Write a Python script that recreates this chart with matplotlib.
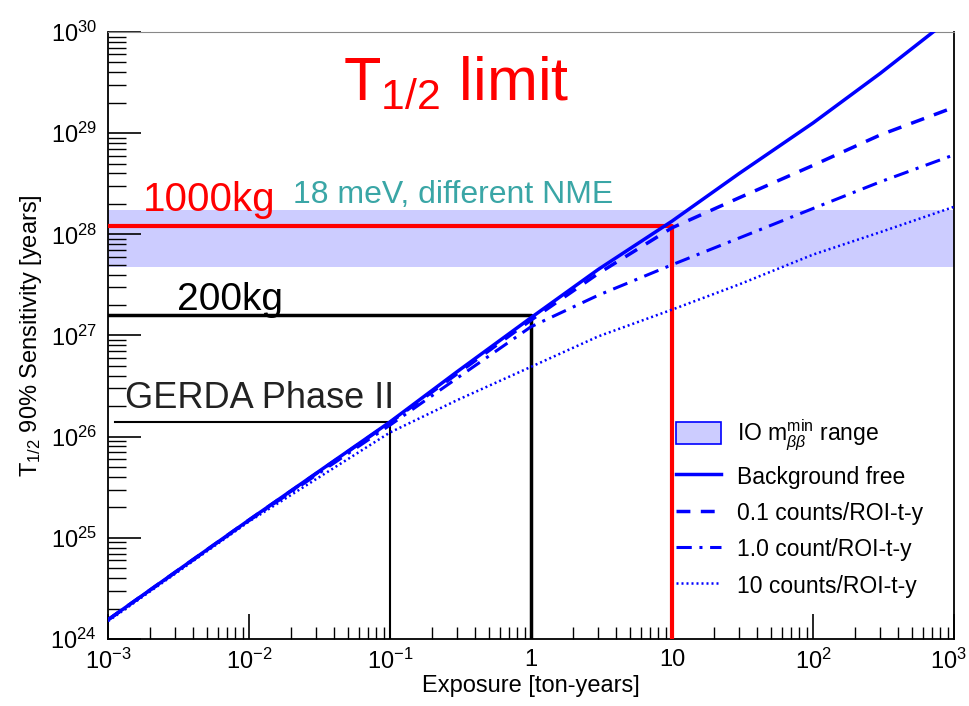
import matplotlib
matplotlib.use("Agg")
import matplotlib.pyplot as plt
import matplotlib.transforms as mtransforms
from matplotlib.patches import Patch
from matplotlib.lines import Line2D
from matplotlib.ticker import FixedLocator, LogLocator, NullFormatter

plt.rcParams['font.family'] = ['Liberation Sans', 'DejaVu Sans']
plt.rcParams['mathtext.fontset'] = 'custom'
plt.rcParams['mathtext.rm'] = 'Liberation Sans'
plt.rcParams['mathtext.it'] = 'Liberation Sans:italic'
plt.rcParams['mathtext.bf'] = 'Liberation Sans:bold'

# ---- data ----
exposure = [1e-3, 1e-2, 1e-1, 0.3, 1, 3, 10, 30, 100, 300, 1000]
bkg_free = [1.55e24, 1.5e25, 1.4e26, 4.4e26, 1.5e27, 4.5e27, 1.35e28, 4.0e28, 1.26e29, 3.9e29, 1.45e30]
bkg_0p1 = [1.55e24, 1.5e25, 1.38e26, 4.2e26, 1.42e27, 4.1e27, 1.16e28, 2.3e28, 4.8e28, 9.6e28, 1.8e29]
bkg_1 = [1.55e24, 1.48e25, 1.3e26, 3.8e26, 1.22e27, 2.5e27, 5.0e27, 9.2e27, 1.8e28, 3.3e28, 6.1e28]
bkg_10 = [1.5e24, 1.45e25, 1.1e26, 2.3e26, 4.9e26, 9.8e26, 1.8e27, 3.2e27, 6.3e27, 1.05e28, 1.87e28]

band_lo, band_hi = 4.7e27, 1.73e28

# (exposure, T1/2) corners of the reference boxes
t_1000kg = (10, 1.2e28)
t_200kg = (1, 1.58e27)
t_gerda = (0.1, 1.4e26)
gerda_x0 = 1.12e-3

x_ticks = [1e-3, 1e-2, 1e-1, 1, 10, 1e2, 1e3]
x_labels = ['$10^{-3}$', '$10^{-2}$', '$10^{-1}$', '1', '10', '$10^{2}$', '$10^{3}$']
y_ticks = [1e24, 1e25, 1e26, 1e27, 1e28, 1e29, 1e30]
y_labels = ['$10^{%d}$' % k for k in range(24, 31)]

BLUE = '#0000ff'
BAND = '#ccccff'

fig = plt.figure(figsize=(9.69, 7.06), dpi=100)
ax = fig.add_axes([0.1115, 0.0949, 0.873, 0.8598])
ax.set_xscale('log')
ax.set_yscale('log')
ax.set_xlim(1e-3, 1e3)
ax.set_ylim(1e24, 1e30)

ax.axhspan(band_lo, band_hi, color=BAND, lw=0, zorder=1)

# reference boxes
ax.plot([1e-3, t_1000kg[0], t_1000kg[0]], [t_1000kg[1], t_1000kg[1], 1e24],
        color='red', lw=3, zorder=3, solid_joinstyle='round')
ax.plot([1e-3, t_200kg[0], t_200kg[0]], [t_200kg[1], t_200kg[1], 1e24],
        color='black', lw=2.5, zorder=3)
ax.plot([gerda_x0, t_gerda[0], t_gerda[0]], [t_gerda[1], t_gerda[1], 1e24],
        color='black', lw=1.5, zorder=3)

ax.plot(exposure, bkg_free, color=BLUE, lw=2.5, zorder=4)
ax.plot(exposure, bkg_0p1, color=BLUE, lw=2.5, ls=(0, (4, 3)), zorder=4)
ax.plot(exposure, bkg_1, color=BLUE, lw=2.2, ls=(0, (5, 2.5, 1, 2.5)), zorder=4)
ax.plot(exposure, bkg_10, color=BLUE, lw=1.8, ls=(0, (0.8, 1.2)), zorder=4)

# ticks, ROOT style
ax.xaxis.set_major_locator(FixedLocator(x_ticks))
ax.set_xticklabels(x_labels)
ax.yaxis.set_major_locator(FixedLocator(y_ticks))
ax.set_yticklabels(y_labels)
for axis in (ax.xaxis, ax.yaxis):
    axis.set_minor_locator(LogLocator(base=10, subs=range(2, 10), numticks=20))
    axis.set_minor_formatter(NullFormatter())
ax.tick_params(which='both', direction='in', top=False, right=False,
               labelsize=17, color='black')
ax.tick_params(axis='y', which='major', length=24, width=1.2, pad=8)
ax.tick_params(axis='y', which='minor', length=13, width=1.0)
ax.tick_params(axis='x', which='major', length=18, width=1.2, pad=7)
ax.tick_params(axis='x', which='minor', length=9, width=1.0)
ax.spines['top'].set_color('#888888')
for s in ('left', 'bottom', 'right'):
    ax.spines[s].set_linewidth(1.3)

# keep the last x label inside the canvas
last = ax.get_xticklabels()[-1]
last.set_transform(last.get_transform()
                   + mtransforms.ScaledTranslation(-6 / 100, 0, fig.dpi_scale_trans))

ax.set_xlabel('Exposure [ton-years]', fontsize=17, labelpad=1)
ax.set_ylabel(r'T$_{1/2}$ 90% Sensitivity [years]', fontsize=17, labelpad=5)

# annotations
ax.text(0.278, 0.889, r'T$_{1/2}$ limit', transform=ax.transAxes,
        fontsize=44, color='red', va='baseline')
ax.text(0.041, 0.705, '1000kg', transform=ax.transAxes,
        fontsize=29, color='red', va='baseline')
ax.text(0.219, 0.718, '18 meV, different NME', transform=ax.transAxes,
        fontsize=23, color='#3aa6a6', va='baseline')
ax.text(0.082, 0.542, '200kg', transform=ax.transAxes,
        fontsize=28, color='black', va='baseline')
ax.text(0.020, 0.380, 'GERDA Phase II', transform=ax.transAxes,
        fontsize=26, color='#222222', va='baseline')

handles = [
    Patch(facecolor=BAND, edgecolor=BLUE, lw=1.2),
    Line2D([], [], color=BLUE, lw=2.5),
    Line2D([], [], color=BLUE, lw=2.5, ls=(0, (4, 3))),
    Line2D([], [], color=BLUE, lw=2.2, ls=(0, (5, 2.5, 1, 2.5))),
    Line2D([], [], color=BLUE, lw=1.8, ls=(0, (0.8, 1.2))),
]
labels = [r'IO m$_{\beta\beta}^{\rm min}$ range', 'Background free',
          '0.1 counts/ROI-t-y', '1.0 count/ROI-t-y', '10 counts/ROI-t-y']
ax.legend(handles, labels, loc='upper left', bbox_to_anchor=(0.66, 0.38),
          frameon=False, fontsize=16.5, handlelength=2.0, handleheight=1.1,
          labelspacing=0.55, handletextpad=0.7, borderaxespad=0)

fig.savefig('out.png', dpi=100)
